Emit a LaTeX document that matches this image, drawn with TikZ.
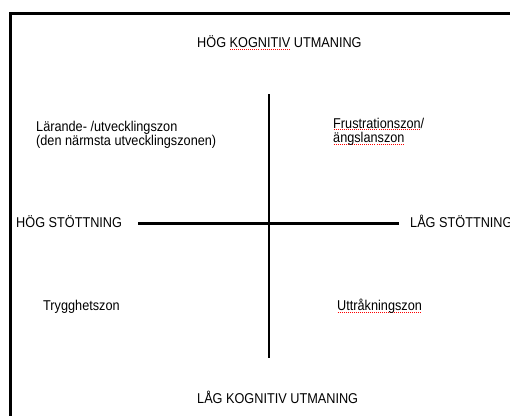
\documentclass[tikz,border=0pt]{standalone}
\usepackage{fontspec}
\setmainfont{Liberation Sans}
\usepackage{graphicx}
\newcommand\vs[1]{\scalebox{1}[1.12]{#1}}
\newcommand\sperr[1]{\setbox0\hbox{#1}\rlap{\color{red}\raisebox{-2pt}{\hbox to\wd0{\xleaders\hbox to 2pt{\hss\vrule width 1pt height 0.9pt\hss}\hfill}}}\box0\relax}
\begin{document}
\begin{tikzpicture}[x=1pt,y=-1pt,
  lbl/.style={inner sep=0pt, anchor=base west, font=\fontsize{12.7}{14.5}\selectfont},
  frameline/.style={line width=2.6pt},
  axisline/.style={line width=2.2pt}]
\useasboundingbox (0,0) rectangle (510,415);
% frame
\coordinate (ftl) at (10.5,13.3);
\coordinate (ftr) at (514,13.3);
\coordinate (fbl) at (10.5,419);
\draw[frameline] (ftr) -- (ftl) -- (fbl);
% axes
\coordinate (vt) at (269.3,94);
\coordinate (vb) at (269.3,358);
\coordinate (hl) at (138.3,223.5);
\coordinate (hr) at (399,223.5);
\draw[axisline] (vt) -- (vb);
\draw[axisline] (hl) -- (hr);
% labels
\node[lbl] (hk) at (197,47.5) {\vs{HÖG \sperr{KOGNITIV} UTMANING}};
\node[lbl] (lk) at (197,403.3) {\vs{LÅG KOGNITIV UTMANING}};
\node[lbl] (hs) at (16,227.3) {\vs{HÖG STÖTTNING}};
\node[lbl] (ls) at (410,227.3) {\vs{LÅG STÖTTNING}};
\node[lbl] (l1) at (36,131) {\vs{Lärande- /utvecklingszon}};
\node[lbl] (l2) at (36,145) {\vs{(den närmsta utvecklingszonen)}};
\node[lbl] (f1) at (333,128) {\vs{\sperr{Frustrationszon}/}};
\node[lbl] (f2) at (333,142.5) {\vs{\sperr{ängslanszon}}};
\node[lbl] (ty) at (43,310.5) {\vs{Trygghetszon}};
\node[lbl] (ut) at (337,310.5) {\vs{\sperr{Uttråkningszon}}};
\end{tikzpicture}
\end{document}
